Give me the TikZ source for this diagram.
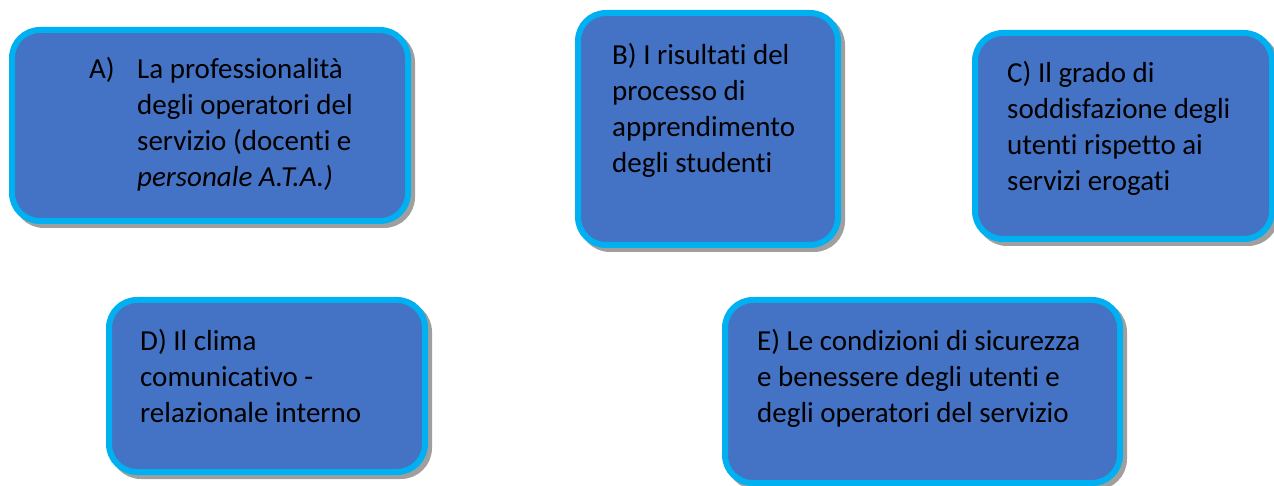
\documentclass[tikz,border=0pt]{standalone}
\usepackage{fontspec}
\setmainfont{Carlito}[Ligatures={NoCommon,NoContextual}]
\usetikzlibrary{shadows}
\definecolor{areablue}{HTML}{4472C4}
\definecolor{arealine}{HTML}{00B0F0}
\tikzset{
  area/.style={draw=arealine, line width=6pt, fill=areablue, rounded corners=28pt, inner sep=0pt,
    drop shadow={shadow xshift=4pt, shadow yshift=-4pt, fill=gray!75, draw=gray!75, line width=6pt, opacity=1}},
  areatext/.style={anchor=base west, inner sep=0pt, font=\fontsize{29}{36}\selectfont}
}

\begin{document}
\begin{tikzpicture}[x=1pt, y=-1pt]
\useasboundingbox (0,0) rectangle (1274,486);
\clip (0,0) rectangle (1274,486);

% the five areas
\node[area, minimum width=396, minimum height=191] (areaA) at (210,125.5) {};
\node[area, minimum width=260, minimum height=232] (areaB) at (708,129) {};
\node[area, minimum width=297, minimum height=206] (areaC) at (1123.5,136) {};
\node[area, minimum width=316, minimum height=172] (areaD) at (267,386) {};
\node[area, minimum width=395, minimum height=183] (areaE) at (922.5,391.5) {};

% their texts
\node[areatext] (textA) at (89,79) {\begin{tabular}[t]{@{}p{48pt}@{}l@{}}
A) & La professionalità\\
   & degli operatori del\\
   & servizio (docenti e\\
   & \textit{personale A.T.A.)}
\end{tabular}};
\node[areatext] (textB) at (612,65) {\begin{tabular}[t]{@{}l@{}}
B) I risultati del\\
processo di\\
apprendimento\\
degli studenti
\end{tabular}};
\node[areatext] (textC) at (1007,82.5) {\begin{tabular}[t]{@{}l@{}}
C) Il grado di\\
soddisfazione degli\\
utenti rispetto ai\\
servizi erogati
\end{tabular}};
\node[areatext] (textD) at (140,350) {\begin{tabular}[t]{@{}l@{}}
D) Il clima\\
comunicativo -\\
relazionale interno
\end{tabular}};
\node[areatext] (textE) at (757,350) {\begin{tabular}[t]{@{}l@{}}
E) Le condizioni di sicurezza\\
e benessere degli utenti e\\
degli operatori del servizio
\end{tabular}};
\end{tikzpicture}
\end{document}
